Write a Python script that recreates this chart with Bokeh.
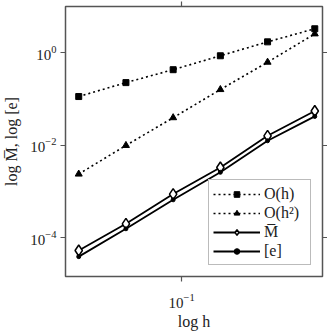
from bokeh.plotting import figure
from bokeh.models import (FixedTicker, LogTickFormatter, LogAxis, Legend, LegendItem,
                          CustomJSTickFormatter)
from bokeh.embed import file_html
from bokeh.resources import INLINE

# ---- data ----
h = [0.0221, 0.0442, 0.0884, 0.1768, 0.3536, 0.7071]
ref_h = [0.113, 0.226, 0.43, 0.86, 1.72, 3.3]
ref_h2 = [0.00238, 0.0099, 0.0394, 0.16, 0.625, 2.56]
mbar = [5.3e-5, 2.0e-4, 8.8e-4, 3.3e-3, 1.6e-2, 5.5e-2]
err = [3.9e-5, 1.56e-4, 6.6e-4, 2.6e-3, 1.25e-2, 4.2e-2]

x_ticks = [0.1]
y_ticks = [1e-4, 1e-2, 1.0]

labels = ["O(h)", "O(h\u00b2)", "M\u0305", "[e]"]
x_label = "log h"
y_label = "log M\u0305, log [e]"

FONT = "Liberation Serif"
FRAME = "#555555"

p = figure(width=327, height=332, x_axis_type="log", y_axis_type="log",
           x_range=(0.0182, 0.792), y_range=(1.45e-5, 10.0),
           output_backend="svg", toolbar_location=None,
           min_border_left=65, min_border_right=5, min_border_top=6, min_border_bottom=55)
p.grid.visible = False
p.outline_line_color = FRAME
p.outline_line_width = 1.5
p.background_fill_color = "white"
p.border_fill_color = "white"

bottom = p.below[0]
left = p.left[0]
bottom.ticker = FixedTicker(ticks=x_ticks)
left.ticker = FixedTicker(ticks=y_ticks)
bottom.formatter = LogTickFormatter()
left.formatter = LogTickFormatter()
bottom.axis_label = x_label
left.axis_label = y_label

right = LogAxis(ticker=FixedTicker(ticks=y_ticks), formatter=CustomJSTickFormatter(code="return ''"))
top = LogAxis(ticker=FixedTicker(ticks=x_ticks), formatter=CustomJSTickFormatter(code="return ''"))
p.add_layout(right, "right")
p.add_layout(top, "above")

for ax in [bottom, left, right, top]:
    ax.axis_line_color = None
    ax.major_tick_line_color = FRAME
    ax.major_tick_line_width = 1.2
    ax.major_tick_in = 0
    ax.major_tick_out = 5
    ax.minor_tick_line_color = None
    ax.major_label_text_font = FONT
    ax.major_label_text_font_size = "15px"
    ax.major_label_text_color = "#222222"
    ax.axis_label_text_font = FONT
    ax.axis_label_text_font_size = "16px"
    ax.axis_label_text_font_style = "normal"
    ax.axis_label_text_color = "#222222"
for ax in [right, top]:
    ax.major_label_standoff = 0
bottom.major_label_standoff = 12
bottom.axis_label_standoff = 2
left.major_label_standoff = 4
left.axis_label_standoff = 7

r1l = p.line(h, ref_h, line_dash="2 3", line_width=1.6, color="black")
r1m = p.scatter(h, ref_h, marker="square", size=6, color="black")
r2l = p.line(h, ref_h2, line_dash="2 3", line_width=1.6, color="black")
r2m = p.scatter(h, ref_h2, marker="triangle", size=7, color="black")
r3l = p.line(h, mbar, line_width=1.8, color="black")
r4l = p.line(h, err, line_width=1.8, color="black")
r3m = p.scatter(h, mbar, marker="diamond", size=11, fill_color="white",
                line_color="black", line_width=1.5)
r4m = p.scatter(h, err, marker="circle", size=4, color="black")

legend = Legend(items=[
    LegendItem(label=labels[0], renderers=[r1l, r1m]),
    LegendItem(label=labels[1], renderers=[r2l, r2m]),
    LegendItem(label=labels[2], renderers=[r3l, r3m]),
    LegendItem(label=labels[3], renderers=[r4l, r4m]),
], location="bottom_right", margin=11, padding=4, spacing=0,
    label_height=19, glyph_height=14, glyph_width=47, label_standoff=4, label_width=42,
    border_line_color="#777777", border_line_width=1.5,
    label_text_font=FONT, label_text_font_size="16px", label_text_color="#222222",
    background_fill_alpha=1.0)
p.add_layout(legend)

open("out.html", "w").write(file_html(p, INLINE))
